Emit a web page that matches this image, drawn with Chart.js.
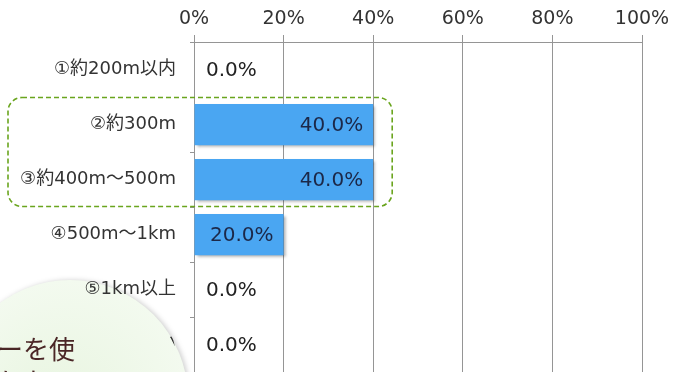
<!DOCTYPE html>
<html>
<head>
<meta charset="utf-8">
<script src="https://cdn.jsdelivr.net/npm/chart.js@4"></script>
<style>
  html, body { margin: 0; padding: 0; background: #fff; }
  #wrap { width: 686px; height: 372px; }
</style>
</head>
<body>
<div id="wrap"><canvas id="distChart"></canvas></div>
<script>
const categories = ['①約200m以内', '②約300m', '③約400m～500m', '④500m～1km', '⑤1km以上', '⑥わからない'];
const shares = [0, 40, 40, 20, 0, 0];
const xTicks = [0, 20, 40, 60, 80, 100];

const FONT = '"DejaVu Sans", "Noto Sans CJK JP", sans-serif';
const CIRCLE = { x: 70, y: 398, r: 118 };

function circleFill(ctx) {
    const g = ctx.createRadialGradient(50, 430, 20, CIRCLE.x, CIRCLE.y, CIRCLE.r);
    g.addColorStop(0, 'rgb(232,245,224)');
    g.addColorStop(1, 'rgb(243,250,239)');
    return g;
}

// shadow under the bars
const barShadow = {
    id: 'barShadow',
    beforeDatasetsDraw(chart) {
        const ctx = chart.ctx;
        ctx.save();
        ctx.shadowColor = 'rgba(0,0,0,0.35)';
        ctx.shadowOffsetX = 2;
        ctx.shadowOffsetY = 2;
        ctx.shadowBlur = 3;
    },
    afterDatasetsDraw(chart) {
        chart.ctx.restore();
    }
};

// value labels on / next to the bars
const valueLabels = {
    id: 'valueLabels',
    afterDatasetsDraw(chart) {
        const ctx = chart.ctx;
        const meta = chart.getDatasetMeta(0);
        ctx.save();
        ctx.font = '20px ' + FONT;
        ctx.textBaseline = 'middle';
        meta.data.forEach((bar, i) => {
            const v = shares[i];
            const txt = v.toFixed(1) + '%';
            if (v > 0) {
                ctx.fillStyle = '#1c2848';
                ctx.textAlign = 'right';
                ctx.fillText(txt, bar.x - 10, bar.y + 1);
            } else {
                ctx.fillStyle = '#222';
                ctx.textAlign = 'left';
                ctx.fillText(txt, bar.base + 12, bar.y + 1);
            }
        });
        ctx.restore();
    }
};

// slide decorations: green circle behind, text box over it, dashed highlight box
const decorations = {
    id: 'decorations',
    beforeDraw(chart) {
        const ctx = chart.ctx;
        ctx.save();
        ctx.shadowColor = 'rgba(0,0,0,0.18)';
        ctx.shadowBlur = 5;
        ctx.shadowOffsetX = 2;
        ctx.fillStyle = circleFill(ctx);
        ctx.beginPath();
        ctx.arc(CIRCLE.x, CIRCLE.y, CIRCLE.r, 0, Math.PI * 2);
        ctx.fill();
        ctx.restore();
    },
    afterDraw(chart) {
        const ctx = chart.ctx;
        const x = chart.scales.x, y = chart.scales.y;

        // text box sitting on the circle (hides the last label)
        ctx.save();
        ctx.beginPath();
        ctx.arc(CIRCLE.x, CIRCLE.y, CIRCLE.r - 1, 0, Math.PI * 2);
        ctx.clip();
        ctx.fillStyle = circleFill(ctx);
        ctx.fillRect(0, y.getPixelForValue(4.5) + 2, 200, 80);
        ctx.restore();

        ctx.save();
        ctx.fillStyle = '#4a2626';
        ctx.font = '26px "Noto Sans CJK JP", sans-serif';
        ctx.textAlign = 'left';
        ctx.textBaseline = 'alphabetic';
        ctx.fillText('ーを使', -3, 359);
        ctx.fillText('わない', -3, 392);
        ctx.restore();

        // dashed rounded box round ② and ③
        const top = y.getPixelForValue(0.5) + 0.5;
        const bottom = y.getPixelForValue(2.5) - 0.5;
        const left = 8, right = x.getPixelForValue(40) + 19;
        ctx.save();
        ctx.strokeStyle = '#6aa51e';
        ctx.lineWidth = 1.6;
        ctx.setLineDash([5, 3]);
        ctx.beginPath();
        ctx.roundRect(left, top, right - left, bottom - top, 14);
        ctx.stroke();
        ctx.restore();
    }
};

new Chart(document.getElementById('distChart'), {
    type: 'bar',
    data: {
        labels: categories,
        datasets: [{
            data: shares,
            backgroundColor: '#4aa6f2',
            borderWidth: 0,
            barPercentage: 0.75,
            categoryPercentage: 1
        }]
    },
    options: {
        indexAxis: 'y',
        responsive: true,
        maintainAspectRatio: false,
        animation: false,
        layout: { padding: { left: 0, right: 44, top: 0, bottom: 0 } },
        plugins: {
            legend: { display: false },
            tooltip: { enabled: false }
        },
        scales: {
            x: {
                position: 'top',
                min: 0,
                max: 100,
                afterBuildTicks: (scale) => {
                    scale.ticks = xTicks.map(v => ({ value: v }));
                },
                afterFit: (scale) => {
                    scale.height = 42;
                    scale.paddingLeft = 0;
                    scale.paddingRight = 0;
                },
                ticks: {
                    callback: (v) => v + '%',
                    color: '#333',
                    font: { size: 19, family: FONT },
                    padding: 5
                },
                grid: { color: '#959595', lineWidth: 1, drawTicks: true, tickLength: 7 },
                border: { color: '#959595' }
            },
            y: {
                afterFit: (scale) => {
                    scale.width = 194;
                    scale.paddingTop = 0;
                    scale.paddingBottom = 0;
                },
                ticks: {
                    color: '#333',
                    font: { size: 18, family: FONT },
                    padding: 14
                },
                grid: { offset: true, drawOnChartArea: false, drawTicks: true, tickLength: 4, color: '#959595' },
                border: { color: '#959595' }
            }
        }
    },
    plugins: [barShadow, valueLabels, decorations]
});
</script>
</body>
</html>
